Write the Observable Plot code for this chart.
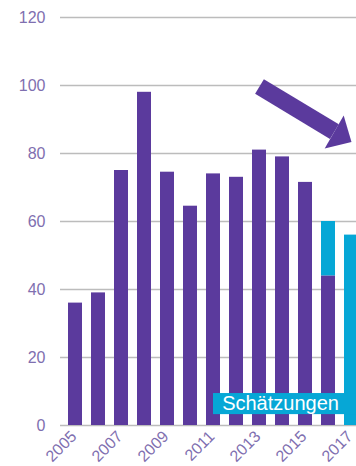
<!DOCTYPE html>
<html>
<head>
<meta charset="utf-8">
<script src="https://cdn.jsdelivr.net/npm/d3@7"></script>
<script src="https://cdn.jsdelivr.net/npm/@observablehq/plot@0.6"></script>
<style>
  html, body { margin: 0; padding: 0; overflow: hidden; background: #fff; }
</style>
</head>
<body>
<div id="chart"></div>
<script>
// Yearly values: reported figures and estimates
const years = [2005, 2006, 2007, 2008, 2009, 2010, 2011, 2012, 2013, 2014, 2015, 2016, 2017];
const actual = [36, 39, 75, 98, 74.5, 64.5, 74, 73, 81, 79, 71.5, 44, 0];
const estimate = [0, 0, 0, 0, 0, 0, 0, 0, 0, 0, 0, 16, 56];
const yTicks = [0, 20, 40, 60, 80, 100, 120];
const yearLabels = [2005, 2007, 2009, 2011, 2013, 2015, 2017];
const estimateLabel = "Schätzungen";

const purple = "#5b3a9d";
const cyan = "#06a7d6";
const ink = "#7f6fb0";
const gridColor = "#bcbcbc";

// Long table for the stacked bars
const bars = years.flatMap((year, i) => [
  {year, kind: "Ist", value: actual[i]},
  {year, kind: "Schätzung", value: estimate[i]}
]).filter(d => d.value > 0);

// Flat filled arrowhead, tip at the origin, pointing down-right
const arrowhead = {
  draw(context) {
    const a = 30 * Math.PI / 180, len = 20, half = 19;
    const ux = Math.cos(a), uy = Math.sin(a), nx = -Math.sin(a), ny = Math.cos(a);
    context.moveTo(0, 0);
    context.lineTo(-len * ux + half * nx, -len * uy + half * ny);
    context.lineTo(-len * ux - half * nx, -len * uy - half * ny);
    context.closePath();
  }
};

const chart = Plot.plot({
  width: 356,
  height: 466,
  marginTop: 17,
  marginBottom: 41,
  marginLeft: 60,
  marginRight: 0,
  style: {
    fontFamily: "'Liberation Sans', Arial, sans-serif",
    fontSize: "16px",
    color: ink,
    background: "white"
  },
  // the last band runs past the right edge, so the 2017 bar is cut off
  x: {domain: years, range: [60.3, 365.8], paddingInner: 0.4, paddingOuter: 0.2, axis: null},
  y: {domain: [0, 120], ticks: yTicks, tickSize: 0, tickPadding: 15, label: null},
  color: {domain: ["Ist", "Schätzung"], range: [purple, cyan]},
  marks: [
    Plot.ruleY(yTicks, {stroke: gridColor, strokeWidth: 1.5}),
    Plot.barY(bars, {x: "year", y: "value", fill: "kind"}),
    Plot.rect([estimateLabel], {
      x1: () => 2011, x2: () => 2017, y1: () => 3.2, y2: () => 9.4,
      fill: cyan, insetLeft: 7, insetRight: 2
    }),
    Plot.text([estimateLabel], {
      x: () => 2014, y: () => 6.3, text: d => d, dx: -2,
      fill: "white", fontSize: 20
    }),
    Plot.text(yearLabels, {
      x: d => d, frameAnchor: "bottom", text: d => String(d),
      rotate: -45, textAnchor: "end", dx: 2, dy: 12, fill: ink
    }),
    Plot.arrow([{from: 2013, to: 2017, start: 99.7, end: 83.4}], {
      x1: "from", x2: "to", y1: "start", y2: "end",
      stroke: purple, strokeWidth: 17, headLength: 0, insetEnd: 20,
      strokeLinecap: "butt"
    }),
    Plot.dot([{at: 2017, end: 83.4}], {
      x: "at", y: "end", symbol: arrowhead, fill: purple, stroke: "none", r: 10
    })
  ]
});

document.getElementById("chart").appendChild(chart);
</script>
</body>
</html>
